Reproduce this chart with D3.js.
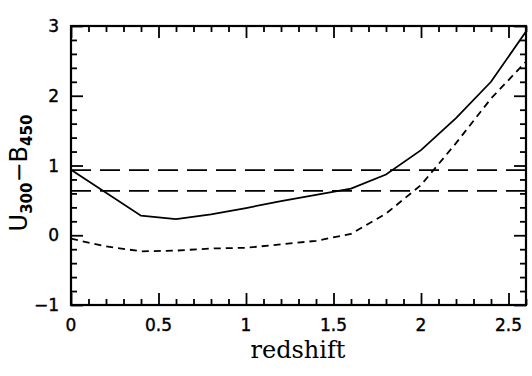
<!DOCTYPE html>
<html>
<head>
<meta charset="utf-8">
<script src="https://cdn.jsdelivr.net/npm/d3@7"></script>
<style>
  body { margin: 0; background: #fff; }
</style>
</head>
<body>
<div id="chart"></div>
<script>
// solid curve
var solidZ = [0, 0.4, 0.6, 0.8, 1.0, 1.2, 1.4, 1.6, 1.8, 2.0, 2.2, 2.4, 2.6];
var solidColor = [0.94, 0.28, 0.23, 0.30, 0.39, 0.49, 0.58, 0.67, 0.87, 1.22, 1.68, 2.20, 2.92];

// short-dashed curve
var dashZ = [0, 0.2, 0.4, 0.6, 0.8, 1.0, 1.2, 1.4, 1.6, 1.8, 2.0, 2.2, 2.4, 2.6];
var dashColor = [-0.05, -0.16, -0.23, -0.22, -0.19, -0.18, -0.13, -0.08, 0.02, 0.31, 0.72, 1.32, 1.96, 2.49];

// horizontal reference lines
var refLines = [0.935, 0.635];

var xTicks = [0, 0.5, 1, 1.5, 2, 2.5];
var yTicks = [-1, 0, 1, 2, 3];

function init() {
    var w = 532;
    var h = 376;
    var left = 71, right = 526, top = 26, bottom = 305;

    var svg = d3.select("#chart")
        .append("svg")
        .attr("width", w)
        .attr("height", h);

    var x = d3.scaleLinear().domain([0, 2.6]).range([left, right]);
    var y = d3.scaleLinear().domain([-1, 3]).range([bottom, top]);

    var xMinor = d3.range(0, 2.61, 0.1).filter(function(v) {
        return Math.abs(v * 2 - Math.round(v * 2)) > 1e-6;
    });
    var yMinor = d3.range(-1, 3.01, 0.2).filter(function(v) {
        return Math.abs(v - Math.round(v)) > 1e-6;
    });

    function tickAxis(axis, size) {
        return axis.tickSizeInner(size).tickSizeOuter(0).tickFormat("");
    }

    // major + minor ticks pointing inward on all sides
    var axes = [
        [d3.axisBottom(x), "translate(0," + bottom + ")", xTicks, xMinor],
        [d3.axisTop(x), "translate(0," + top + ")", xTicks, xMinor],
        [d3.axisLeft(y), "translate(" + left + ",0)", yTicks, yMinor],
        [d3.axisRight(y), "translate(" + right + ",0)", yTicks, yMinor]
    ];
    axes.forEach(function(a) {
        var gMaj = svg.append("g").attr("transform", a[1])
            .call(tickAxis(a[0].tickValues(a[2]), -12));
        var gMin = svg.append("g").attr("transform", a[1])
            .call(tickAxis(a[0].tickValues(a[3]), -6));
        [gMaj, gMin].forEach(function(g) {
            g.select(".domain").remove();
            g.selectAll("line").attr("stroke", "#000").attr("stroke-width", 1.8);
        });
    });

    // frame
    svg.append("rect")
        .attr("x", left).attr("y", top)
        .attr("width", right - left).attr("height", bottom - top)
        .attr("fill", "none").attr("stroke", "#000").attr("stroke-width", 2.2);

    // tick labels
    svg.selectAll(".xlab")
        .data(xTicks)
        .enter()
        .append("text")
        .attr("x", function(d) { return x(d); })
        .attr("y", 331)
        .attr("text-anchor", "middle")
        .style("font-family", "DejaVu Sans")
        .style("font-size", "17px")
        .style("stroke", "#000")
        .style("stroke-width", 0.4)
        .text(function(d) { return d; });

    svg.selectAll(".ylab")
        .data(yTicks)
        .enter()
        .append("text")
        .attr("x", 59)
        .attr("y", function(d) { return y(d) + 6; })
        .attr("text-anchor", "end")
        .style("font-family", "DejaVu Sans")
        .style("font-size", "17px")
        .style("stroke", "#000")
        .style("stroke-width", 0.4)
        .text(function(d) { return d < 0 ? "\u2212" + Math.abs(d) : d; });

    // axis titles
    svg.append("text")
        .attr("x", 298)
        .attr("y", 358)
        .attr("text-anchor", "middle")
        .style("font-family", "DejaVu Serif")
        .style("font-size", "24px")
        .text("redshift");

    var yt = svg.append("text")
        .attr("transform", "translate(27,173) rotate(-90)")
        .attr("text-anchor", "middle")
        .style("font-family", "DejaVu Sans")
        .style("font-size", "24px");
    yt.append("tspan").text("U");
    yt.append("tspan").attr("dy", 5).style("font-size", "15px").style("font-weight", "bold").text("300");
    yt.append("tspan").attr("dy", -5).text("\u2212B");
    yt.append("tspan").attr("dy", 5).style("font-size", "15px").style("font-weight", "bold").text("450");

    // reference lines
    svg.selectAll(".ref")
        .data(refLines)
        .enter()
        .append("line")
        .attr("x1", x(0)).attr("x2", x(2.6))
        .attr("y1", function(d) { return y(d); })
        .attr("y2", function(d) { return y(d); })
        .attr("stroke", "#000")
        .attr("stroke-width", 1.8)
        .attr("stroke-dasharray", "20,9");

    var line = d3.line()
        .x(function(d) { return x(d[0]); })
        .y(function(d) { return y(d[1]); });

    svg.append("path")
        .attr("d", line(d3.zip(solidZ, solidColor)))
        .attr("fill", "none")
        .attr("stroke", "#000")
        .attr("stroke-width", 1.8);

    svg.append("path")
        .attr("d", line(d3.zip(dashZ, dashColor)))
        .attr("fill", "none")
        .attr("stroke", "#000")
        .attr("stroke-width", 1.8)
        .attr("stroke-dasharray", "7,5");
}

window.onload = init;
</script>
</body>
</html>
